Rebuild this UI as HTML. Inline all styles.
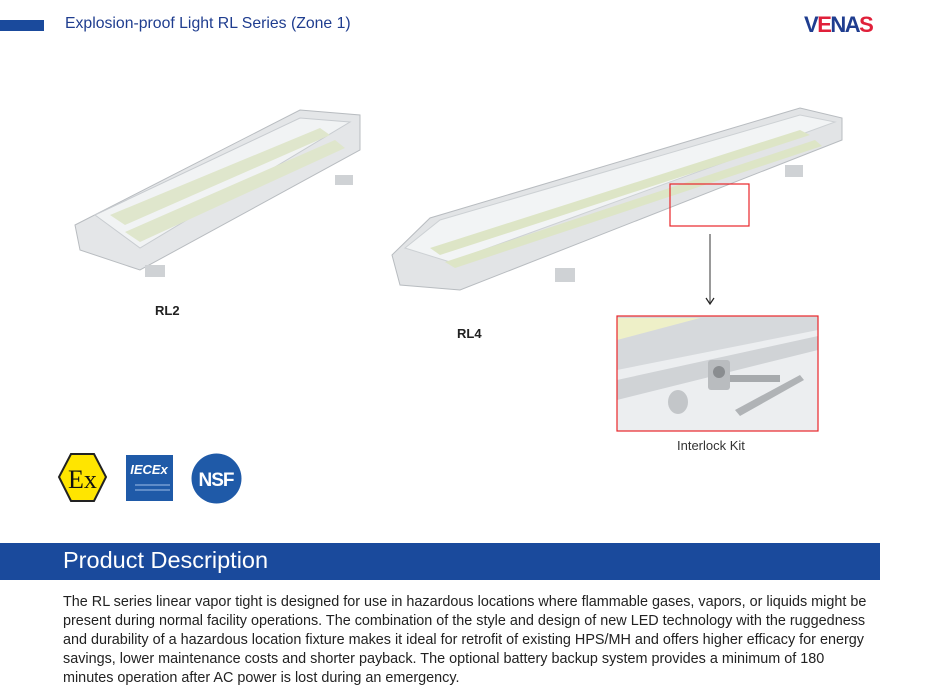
<!DOCTYPE html>
<html><head><meta charset="utf-8"><style>
body{margin:0;width:947px;height:694px;background:#fff;position:relative;overflow:hidden;font-family:"Liberation Sans",Arial,sans-serif}
.a{position:absolute}
</style></head><body>
<div class="a" style="left:0;top:20px;width:44px;height:11px;background:#1a4a9c"></div>
<div class="a" style="left:65px;top:15px;font-size:15.8px;color:#1f3d8f">Explosion-proof Light RL Series (Zone 1)</div>
<div class="a" style="left:804px;top:12px;font-size:22px;font-weight:bold;letter-spacing:-1.5px;color:#1f3d8f">V<span style="color:#e0203a">E</span>N<span>A</span><span style="color:#e0203a">S</span></div>

<svg class="a" style="left:0;top:0" width="947" height="694">
 <g>
  <polygon points="75,225 300,110 360,115 360,150 140,270 80,250" fill="#e4e6e8" stroke="#b8bcc0"/>
  <polygon points="95,215 300,118 350,122 140,248" fill="#f1f3f4" stroke="#c8ccd0"/>
  <polygon points="110,215 320,128 330,135 125,225" fill="#dfe6cc"/>
  <polygon points="125,232 335,140 345,148 140,242" fill="#dfe6cc"/>
  <rect x="145" y="265" width="20" height="12" fill="#cfd2d5"/>
  <rect x="335" y="175" width="18" height="10" fill="#cfd2d5"/>
 </g>
 <g>
  <polygon points="392,255 430,218 800,108 842,118 842,140 460,290 400,285" fill="#e2e4e6" stroke="#b8bcc0"/>
  <polygon points="405,248 440,220 800,115 835,122 450,262" fill="#f2f4f5" stroke="#cdd1d4"/>
  <polygon points="430,248 800,130 810,135 440,255" fill="#dde5c6"/>
  <polygon points="445,262 815,140 822,146 455,268" fill="#dde5c6"/>
  <rect x="555" y="268" width="20" height="14" fill="#cfd2d5"/>
  <rect x="785" y="165" width="18" height="12" fill="#cfd2d5"/>
 </g>
 <rect x="670" y="184" width="79" height="42" fill="none" stroke="#e8262a" stroke-width="1.2"/>
 <line x1="710" y1="234" x2="710" y2="303" stroke="#555" stroke-width="1.2"/>
 <polyline points="706,298 710,304 714,298" fill="none" stroke="#222" stroke-width="1.2"/>
 <rect x="617" y="316" width="201" height="115" fill="#eceef0"/>
 <polygon points="617,316 818,316 818,330 617,370" fill="#d6d9dc"/>
 <polygon points="617,318 700,318 617,340" fill="#eef0c8"/>
 <polygon points="617,380 818,336 818,350 617,400" fill="#d0d3d6"/>
 <rect x="708" y="360" width="22" height="30" rx="3" fill="#b9bcbf"/>
 <circle cx="719" cy="372" r="6" fill="#8a8d90"/>
 <rect x="730" y="375" width="50" height="7" fill="#a7aaad"/>
 <polygon points="735,410 800,375 804,380 740,416" fill="#b0b3b6"/>
 <ellipse cx="678" cy="402" rx="10" ry="12" fill="#c3c6c9"/>
 <rect x="617" y="316" width="201" height="115" fill="none" stroke="#e8262a" stroke-width="1.2"/>
 <polygon points="71,454 94,454 106,477 94,501 71,501 59,477" fill="#ffe500" stroke="#222" stroke-width="2"/>
 <text x="82.5" y="488" font-size="26" font-family="Liberation Serif" text-anchor="middle" fill="#111">Ex</text>
 <rect x="126" y="455" width="47" height="46" fill="#1f5aa8"/>
 <text x="149" y="474" font-size="13" font-weight="bold" font-style="italic" text-anchor="middle" fill="#fff">IECEx</text>
 <line x1="135" y1="485" x2="170" y2="485" stroke="#9fbfe8"/>
 <line x1="135" y1="490" x2="170" y2="490" stroke="#9fbfe8"/>
 <circle cx="216.5" cy="478.5" r="25" fill="#1f5aa8"/>
 <text x="216" y="486" font-size="19" font-weight="bold" text-anchor="middle" fill="#fff" letter-spacing="-1">NSF</text>
</svg>
<div class="a" style="left:155px;top:303px;font-size:13px;font-weight:bold;color:#222">RL2</div>
<div class="a" style="left:457px;top:326px;font-size:13px;font-weight:bold;color:#222">RL4</div>
<div class="a" style="left:677px;top:438px;font-size:13px;color:#333">Interlock Kit</div>

<div class="a" style="left:0;top:543px;width:880px;height:37px;background:#1a4a9c"></div>
<div class="a" style="left:63px;top:547px;font-size:23.5px;color:#fff">Product Description</div>
<div class="a" style="left:63px;top:593px;width:815px;font-size:14.4px;line-height:19px;color:#222">The RL series linear vapor tight is designed for use in hazardous locations where flammable gases, vapors, or liquids might be present during normal facility operations. The combination of the style and design of new LED technology with the ruggedness and durability of a hazardous location fixture makes it ideal for retrofit of existing HPS/MH and offers higher efficacy for energy savings, lower maintenance costs and shorter payback. The optional battery backup system provides a minimum of 180 minutes operation after AC power is lost during an emergency.</div>
</body></html>
